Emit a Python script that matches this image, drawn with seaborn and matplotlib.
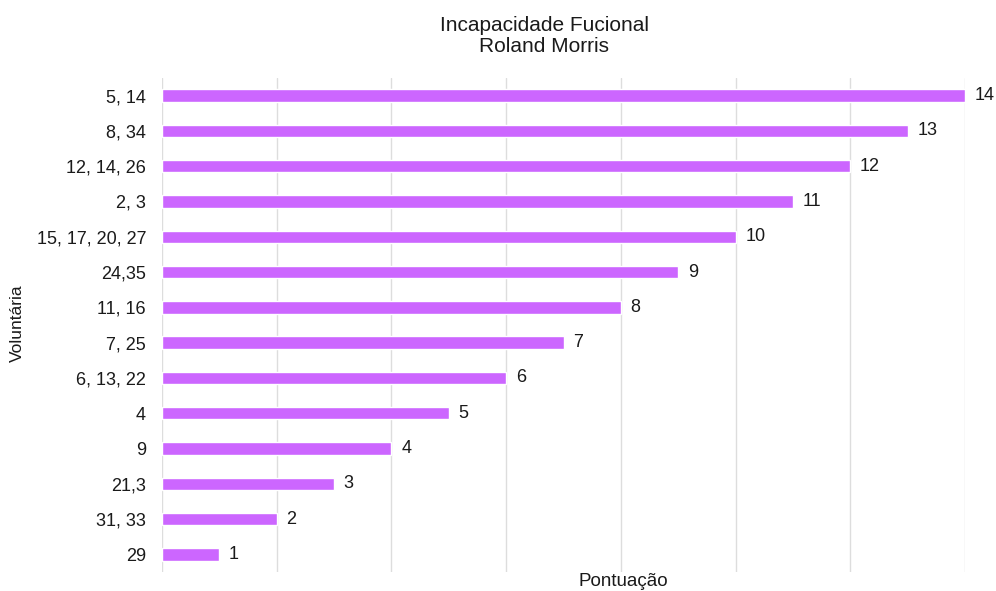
import matplotlib
matplotlib.use("Agg")
import matplotlib.pyplot as plt
import seaborn as sns
import pandas as pd

voluntarias = ["5, 14", "8, 34", "12, 14, 26", "2, 3", "15, 17, 20, 27", "24,35",
               "11, 16", "7, 25", "6, 13, 22", "4", "9", "21,3", "31, 33", "29"]
pontuacao = [14, 13, 12, 11, 10, 9, 8, 7, 6, 5, 4, 3, 2, 1]

df = pd.DataFrame({"Voluntária": voluntarias, "Pontuação": pontuacao})

sns.set_theme(style="whitegrid")
plt.rcParams["font.family"] = ["Liberation Sans", "DejaVu Sans"]

fig = plt.figure(figsize=(9.96, 5.91), dpi=100)
ax = fig.add_axes([162 / 996, 1 - 572 / 591, (965 - 162) / 996, (572 - 78) / 591])

sns.barplot(data=df, y="Voluntária", x="Pontuação", orient="h", color="#cc66ff",
            saturation=1, width=0.35, ax=ax)

ax.set_xlim(0, 14)
ax.set_ylim(13.5, -0.5)
ax.set_xticks(range(0, 15, 2))
ax.set_xticklabels([])
ax.tick_params(axis="x", length=0)
ax.tick_params(axis="y", length=0, labelsize=13, pad=11.5, labelcolor="#1a1a1a")
ax.grid(axis="x", color="#dddddd", linewidth=1)
ax.grid(axis="y", visible=False)
for s in ax.spines.values():
    s.set_visible(False)

for container in ax.containers:
    labels = ax.bar_label(container, padding=7, fontsize=13, color="#1a1a1a")
    for t in labels:
        t.set_clip_on(False)

ax.set_xlabel("")
ax.set_ylabel("")
fig.text(17 / 996, 1 - 323 / 591, "Voluntária", rotation=90, ha="center", va="center",
         fontsize=12.5, color="#1a1a1a")
fig.text(623 / 996, 1 - 582 / 591, "Pontuação", ha="center", va="center",
         fontsize=13.5, color="#1a1a1a")
fig.text(544 / 996, 1 - 36 / 591, "Incapacidade Fucional\nRoland Morris", ha="center",
         va="center", fontsize=15, color="#1a1a1a", linespacing=1.1)

fig.savefig("out.png", dpi=100, facecolor="white")
